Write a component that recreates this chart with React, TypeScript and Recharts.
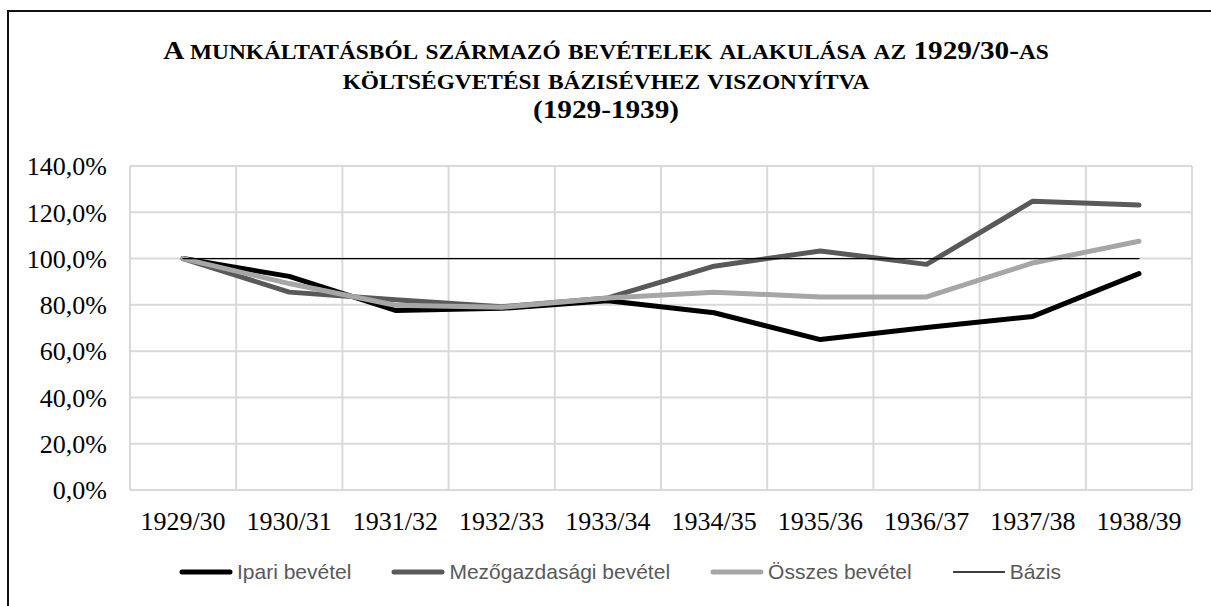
import { CartesianGrid, Line, LineChart, XAxis, YAxis } from "recharts";

const categories = [
	"1929/30",
	"1930/31",
	"1931/32",
	"1932/33",
	"1933/34",
	"1934/35",
	"1935/36",
	"1936/37",
	"1937/38",
	"1938/39",
];
const ipari = [100, 92.3, 77.6, 78.5, 81.8, 76.6, 65, 70.2, 75, 93.5];
const mezogazdasagi = [100, 85.5, 82.2, 79.2, 83, 96.7, 103.3, 97.5, 124.8, 123.1];
const osszes = [100, 89.2, 79.8, 79, 83, 85.5, 83.4, 83.4, 98.1, 107.5];
const bazis = [100, 100, 100, 100, 100, 100, 100, 100, 100, 100];
const yTicks = [0, 20, 40, 60, 80, 100, 120, 140];

const titleLines = [
	"A munkáltatásból származó bevételek alakulása az 1929/30-as",
	"költségvetési bázisévhez viszonyítva",
	"(1929-1939)",
];

const series = [
	{ key: "ipari", name: "Ipari bevétel", color: "#000000", width: 5 },
	{ key: "mezo", name: "Mezőgazdasági bevétel", color: "#595959", width: 5 },
	{ key: "osszes", name: "Összes bevétel", color: "#a6a6a6", width: 5 },
	{ key: "bazis", name: "Bázis", color: "#000000", width: 1.3 },
];

const data = categories.map((name, i) => ({
	name,
	ipari: ipari[i],
	mezo: mezogazdasagi[i],
	osszes: osszes[i],
	bazis: bazis[i],
}));

const serif = "'Liberation Serif', 'Times New Roman', serif";
const sans = "'Liberation Sans', Arial, sans-serif";

const fmtPct = (v: number) => v.toFixed(1).replace(".", ",") + "%";

// split a string into runs of full caps and small caps (lowercase letters)
function smallCapsRuns(text: string) {
	const runs: { t: string; small: boolean }[] = [];
	for (const ch of text) {
		const small = ch !== ch.toUpperCase();
		const last = runs[runs.length - 1];
		if (last && last.small === small) last.t += small ? ch.toUpperCase() : ch;
		else runs.push({ t: small ? ch.toUpperCase() : ch, small });
	}
	return runs;
}

function Title() {
	const size = 25;
	const cx = 606;
	const baselines = [59, 88.5, 118];
	return (
		<svg
			width={1211}
			height={140}
			style={{ position: "absolute", left: 0, top: 0 }}
		>
			{titleLines.map((line, i) => (
				<text
					key={i}
					transform={`translate(${cx},${baselines[i]}) scale(1.17,1)`}
					textAnchor="middle"
					fontFamily={serif}
					fontWeight="bold"
					fontSize={size}
					fill="#000"
				>
					{smallCapsRuns(line).map((r, j) => (
						<tspan key={j} fontSize={r.small ? size * 0.8 : size}>
							{r.t}
						</tspan>
					))}
				</text>
			))}
		</svg>
	);
}

export default function App() {
	return (
		<div
			style={{
				position: "absolute",
				left: 0,
				top: 0,
				width: 1211,
				height: 606,
				overflow: "hidden",
				background: "#fff",
			}}
		>
			{/* chart frame, only top and left edges are visible */}
			<div
				style={{
					position: "absolute",
					left: 7,
					top: 10,
					width: 1300,
					height: 700,
					border: "2px solid #111",
				}}
			/>
			<Title />
			<div style={{ position: "absolute", left: 0, top: 0 }}>
				<LineChart
					width={1211}
					height={606}
					data={data}
					margin={{ top: 166, right: 19, bottom: 56, left: 30 }}
				>
					<CartesianGrid
						stroke="#d9d9d9"
						strokeWidth={2}
						verticalCoordinatesGenerator={({ offset }: any) =>
							categories
								.concat([""])
								.map((_, i) => offset.left + (i * offset.width) / categories.length)
						}
					/>
					<XAxis
						dataKey="name"
						height={60}
						padding={{ left: 53, right: 53 }}
						axisLine={false}
						tickLine={false}
						tickSize={0}
						tickMargin={22}
						interval={0}
						tick={{ fontSize: 26, fontFamily: serif, fill: "#000" }}
					/>
					<YAxis
						width={100}
						domain={[0, 140]}
						ticks={yTicks}
						axisLine={false}
						tickLine={false}
						tickSize={0}
						tickMargin={23}
						tickFormatter={fmtPct}
						tick={{ fontSize: 26, fontFamily: serif, fill: "#000" }}
					/>
					{series.map((s) => (
						<Line
							key={s.key}
							dataKey={s.key}
							name={s.name}
							type="linear"
							stroke={s.color}
							strokeWidth={s.width}
							strokeLinecap="round"
							strokeLinejoin="round"
							dot={false}
							activeDot={false}
							isAnimationActive={false}
						/>
					))}
				</LineChart>
			</div>
			<div
				style={{
					position: "absolute",
					left: 0,
					top: 560,
					width: 1240,
					display: "flex",
					justifyContent: "center",
					alignItems: "center",
					fontFamily: sans,
					fontSize: 21,
					color: "#595959",
				}}
			>
				{series.map((s, i) => (
					<div
						key={s.key}
						style={{
							display: "flex",
							alignItems: "center",
							marginLeft: i === 0 ? 0 : 40,
						}}
					>
						<svg width={54} height={10} style={{ marginRight: 4 }}>
							<line
								x1={s.width > 2 ? 3 : 1}
								x2={s.width > 2 ? 51 : 53}
								y1={5}
								y2={5}
								stroke={s.color}
								strokeWidth={s.width}
								strokeLinecap={s.width > 2 ? "round" : "butt"}
							/>
						</svg>
						<span>{s.name}</span>
					</div>
				))}
			</div>
		</div>
	);
}
